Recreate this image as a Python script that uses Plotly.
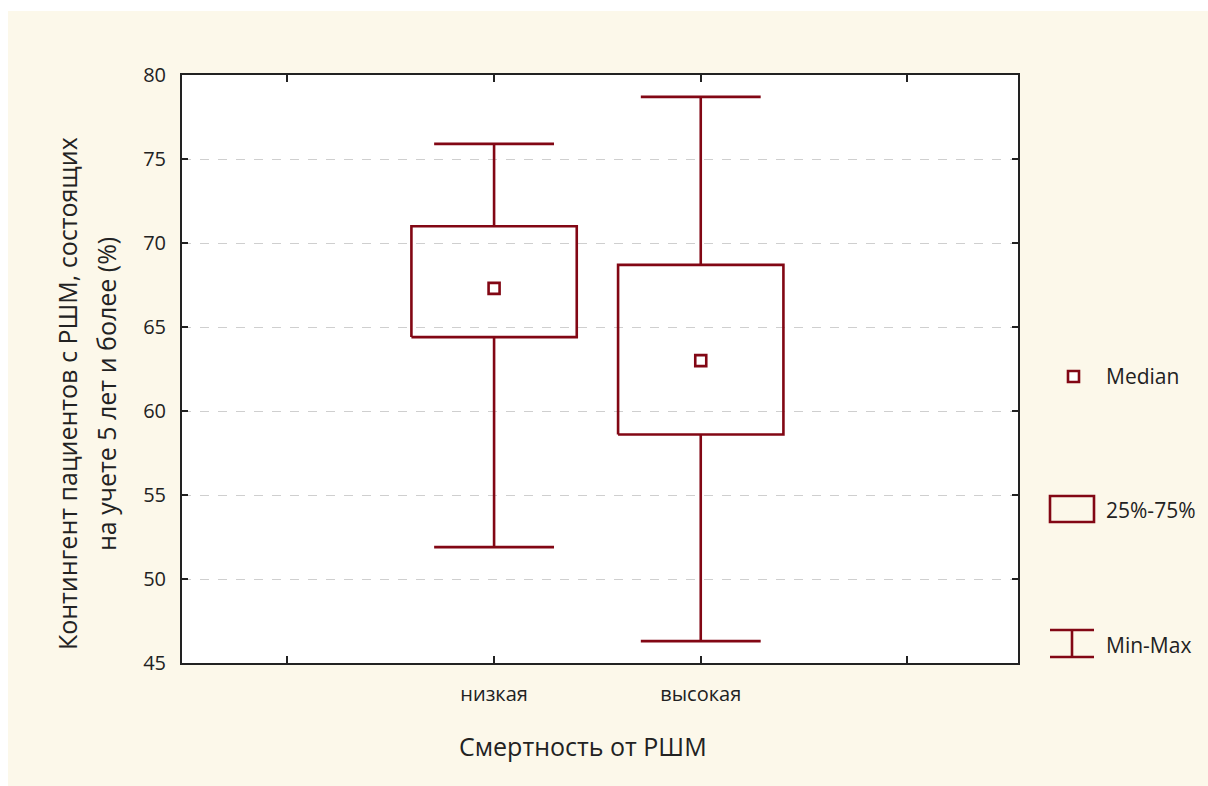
import plotly.graph_objects as go

categories = ["низкая", "высокая"]
positions = [1, 2]
minimum = [51.9, 46.3]
q1 = [64.4, 58.6]
median = [67.3, 63.0]
q3 = [71.0, 68.7]
maximum = [75.9, 78.7]

y_ticks = [45, 50, 55, 60, 65, 70, 75, 80]
x_ticks = [0, 1, 2, 3]
x_ticklabels = ["", "низкая", "высокая", ""]

y_title_lines = ["Контингент пациентов с РШМ, состоящих", "на учете 5 лет и более (%)"]
x_title = "Смертность от РШМ"
legend_labels = ["Median", "25%-75%", "Min-Max"]

RED = "#820714"
TXT = "#222222"
FONT = "Open Sans"
BOX_HALF = 0.40
CAP_HALF = 0.29
LW = 2.6

W, H = 1208, 786
L, R, T, B = 182, 1018, 75, 663


def px(x):
    return (x - L) / (R - L)


def py(y):
    return (B - y) / (B - T)


fig = go.Figure()

for i, c in enumerate(categories):
    p = positions[i]
    xs = [p - BOX_HALF, p + BOX_HALF, p + BOX_HALF, p - BOX_HALF, p - BOX_HALF, None,
          p, p, None, p, p, None,
          p - CAP_HALF, p + CAP_HALF, None, p - CAP_HALF, p + CAP_HALF]
    ys = [q1[i], q1[i], q3[i], q3[i], q1[i], None,
          q3[i], maximum[i], None, q1[i], minimum[i], None,
          maximum[i], maximum[i], None, minimum[i], minimum[i]]
    fig.add_trace(go.Scatter(x=xs, y=ys, mode="lines", line=dict(color=RED, width=LW),
                             name=c, showlegend=False, hoverinfo="skip"))

fig.add_trace(go.Scatter(x=positions, y=median, mode="markers",
                         marker=dict(symbol="square", size=11, color="white",
                                     line=dict(color=RED, width=LW)),
                         showlegend=False))

shapes = [
    # white outer margins
    dict(type="rect", xref="paper", yref="paper", x0=px(0), x1=px(8), y0=py(W), y1=py(0),
         fillcolor="white", line=dict(width=0), layer="below"),
    dict(type="rect", xref="paper", yref="paper", x0=px(0), x1=px(W), y0=py(11), y1=py(0),
         fillcolor="white", line=dict(width=0), layer="below"),
    # legend symbols
    dict(type="rect", xref="paper", yref="paper", x0=px(1068), x1=px(1079), y0=py(382), y1=py(371),
         fillcolor="white", line=dict(color=RED, width=LW)),
    dict(type="rect", xref="paper", yref="paper", x0=px(1050), x1=px(1094), y0=py(522), y1=py(496),
         fillcolor="rgba(0,0,0,0)", line=dict(color=RED, width=LW)),
    dict(type="line", xref="paper", yref="paper", x0=px(1050), x1=px(1094), y0=py(630), y1=py(630),
         line=dict(color=RED, width=LW)),
    dict(type="line", xref="paper", yref="paper", x0=px(1050), x1=px(1094), y0=py(657), y1=py(657),
         line=dict(color=RED, width=LW)),
    dict(type="line", xref="paper", yref="paper", x0=px(1072), x1=px(1072), y0=py(630), y1=py(657),
         line=dict(color=RED, width=LW)),
]

annotations = []
for label, yy in zip(legend_labels, [376, 510, 645]):
    annotations.append(dict(text=label, x=px(1104), y=py(yy), xref="paper", yref="paper",
                            xanchor="left", yanchor="middle", showarrow=False,
                            font=dict(family=FONT, size=21, color=TXT)))
annotations.append(dict(text=x_title, x=px(583), y=py(746), xref="paper", yref="paper",
                        xanchor="center", yanchor="middle", showarrow=False,
                        font=dict(family=FONT, size=25, color=TXT)))
for line, xx in zip(y_title_lines, [67, 106]):
    annotations.append(dict(text=line, x=px(xx), y=py(394), xref="paper", yref="paper",
                            xanchor="center", yanchor="middle", textangle=-90, showarrow=False,
                            font=dict(family=FONT, size=25, color=TXT)))

fig.update_layout(
    width=W, height=H,
    margin=dict(l=L, r=W - R, t=T, b=H - B),
    paper_bgcolor="#FCF8EA",
    plot_bgcolor="white",
    font=dict(family=FONT, size=20, color=TXT),
    shapes=shapes,
    annotations=annotations,
    showlegend=False,
)

fig.update_xaxes(
    range=[-0.51, 3.535], tickmode="array", tickvals=x_ticks, ticktext=x_ticklabels,
    ticks="inside", ticklen=7, tickwidth=2, tickcolor=TXT,
    showline=True, linecolor=TXT, linewidth=2, mirror="ticks",
    showgrid=False, zeroline=False, ticklabelstandoff=12,
    tickfont=dict(family=FONT, size=20, color=TXT),
)
fig.update_yaxes(
    range=[45, 80], tickmode="array", tickvals=y_ticks,
    ticks="inside", ticklen=6, tickwidth=2, tickcolor=TXT,
    showline=True, linecolor=TXT, linewidth=2, mirror="ticks",
    showgrid=True, gridcolor="#cfcfcf", griddash="dash", gridwidth=1,
    zeroline=False, ticklabelstandoff=10,
    tickfont=dict(family=FONT, size=20, color=TXT),
)

fig.write_html("out.html")
